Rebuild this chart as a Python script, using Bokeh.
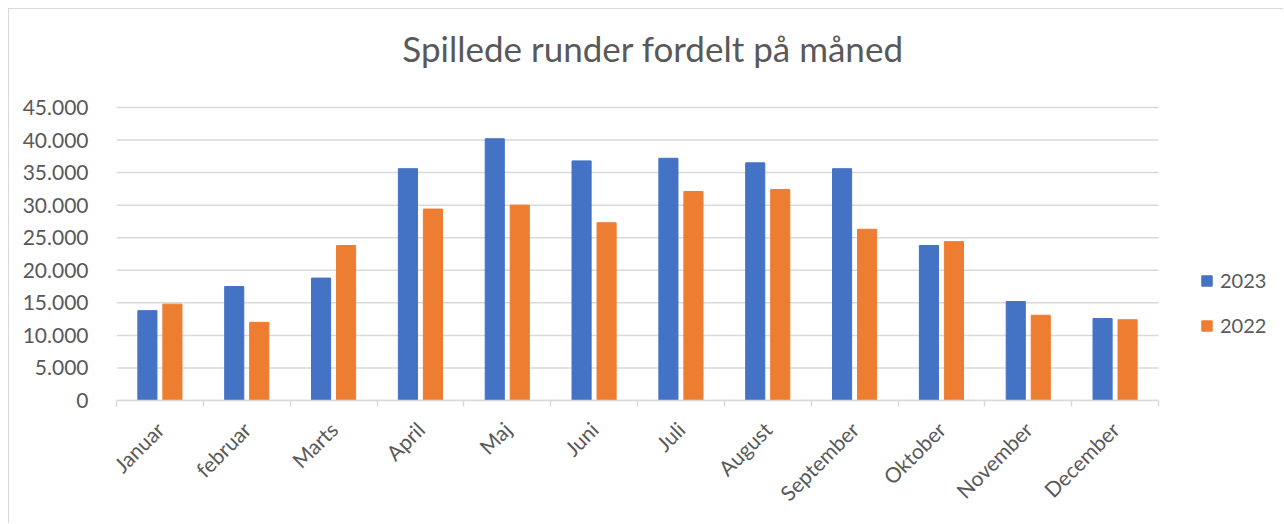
from math import pi
from bokeh.plotting import figure
from bokeh.models import (ColumnDataSource, FixedTicker, Legend, LegendItem, Range1d,
                          Label)
from bokeh.embed import file_html
from bokeh.resources import INLINE

title = "Spillede runder fordelt på måned"
months = ["Januar", "februar", "Marts", "April", "Maj", "Juni", "Juli",
          "August", "September", "Oktober", "November", "December"]
y2023 = [13800, 17500, 18800, 35600, 40200, 36800, 37200, 36500, 35600, 23800, 15200, 12600]
y2022 = [14800, 12000, 23800, 29400, 30000, 27300, 32100, 32400, 26300, 24400, 13100, 12400]
y_ticks = [0, 5000, 10000, 15000, 20000, 25000, 30000, 35000, 40000, 45000]
y_tick_labels = ["0", "5.000", "10.000", "15.000", "20.000", "25.000",
                 "30.000", "35.000", "40.000", "45.000"]

n = len(months)
xs = list(range(1, n + 1))
src = ColumnDataSource(dict(
    x23=[x - 0.144 for x in xs], x22=[x + 0.144 for x in xs], y23=y2023, y22=y2022))

FONT = "Lato"
TXT = "#595959"
GRID = "#d9d9d9"

# layout in px: the plotting frame covers the whole area right of the y axis and
# above the x axis, so the title and legend can be drawn inside it without clipping
W, H = 1275, 515
LEFT, BOTTOM = 107, 124
AXIS_PX = 293                      # height of 0..45.000 in px
FRAME_H = H - BOTTOM
CAT_PX = 1042 / n                  # px per category
y_top = y_ticks[-1] * FRAME_H / AXIS_PX
x_right = 0.5 + (W - LEFT) / CAT_PX

p = figure(width=W, height=H, output_backend="svg", toolbar_location=None,
           x_range=Range1d(0.5, x_right), y_range=Range1d(0, y_top),
           min_border_left=LEFT, min_border_right=0, min_border_top=0,
           min_border_bottom=BOTTOM)
p.outline_line_color = None
p.styles = {"margin-left": "8px", "margin-top": "8px",
            "border-left": "1px solid #d9d9d9", "border-top": "1px solid #d9d9d9"}

# horizontal gridlines over the category span only
p.segment(x0=0.5, x1=n + 0.5, y0=y_ticks, y1=y_ticks, line_color=GRID, line_width=1.5)

r23 = p.vbar(x="x23", top="y23", width=0.22, source=src, fill_color="#4472C4",
             line_color="#4472C4")
r22 = p.vbar(x="x22", top="y22", width=0.22, source=src, fill_color="#ED7D31",
             line_color="#ED7D31")

# chart title
p.add_layout(Label(x=0.5 + (652.5 - 116) / CAT_PX,
                   y=y_ticks[-1] * (FRAME_H - 38) / AXIS_PX,
                   text=title, text_align="center", text_baseline="alphabetic",
                   text_font=FONT, text_font_size="35px", text_color=TXT))

xa = p.xaxis[0]
xa.bounds = (0.5, n + 0.5)
xa.ticker = FixedTicker(ticks=xs, minor_ticks=[x + 0.5 for x in range(0, n + 1)])
xa.major_label_overrides = {x: m for x, m in zip(xs, months)}
xa.major_label_orientation = pi / 4
xa.major_tick_out = 0
xa.major_tick_in = 0
xa.minor_tick_out = 6
xa.minor_tick_in = 0
xa.minor_tick_line_color = GRID
xa.axis_line_color = GRID
xa.axis_line_width = 1.5
xa.minor_tick_line_width = 1.5
xa.major_label_text_font = FONT
xa.major_label_text_font_size = "21px"
xa.major_label_text_color = TXT
xa.major_label_standoff = 19

ya = p.yaxis[0]
ya.ticker = FixedTicker(ticks=y_ticks)
ya.major_label_overrides = {t: l for t, l in zip(y_ticks, y_tick_labels)}
ya.axis_line_color = None
ya.major_tick_line_color = None
ya.minor_tick_line_color = None
ya.major_label_text_font = FONT
ya.major_label_text_font_size = "21px"
ya.major_label_text_color = TXT
ya.major_label_standoff = 22

p.xgrid.grid_line_color = None
p.ygrid.grid_line_color = None

legend = Legend(items=[LegendItem(label="2023", renderers=[r23]),
                       LegendItem(label="2022", renderers=[r22])],
                location=(1084, 63), orientation="vertical",
                label_text_font=FONT, label_text_font_size="20px",
                label_text_color=TXT, glyph_width=13, glyph_height=13,
                spacing=21, border_line_color=None, background_fill_alpha=0,
                label_standoff=7, padding=0, margin=0)
p.add_layout(legend, "center")

open("out.html", "w").write(file_html(p, INLINE))
